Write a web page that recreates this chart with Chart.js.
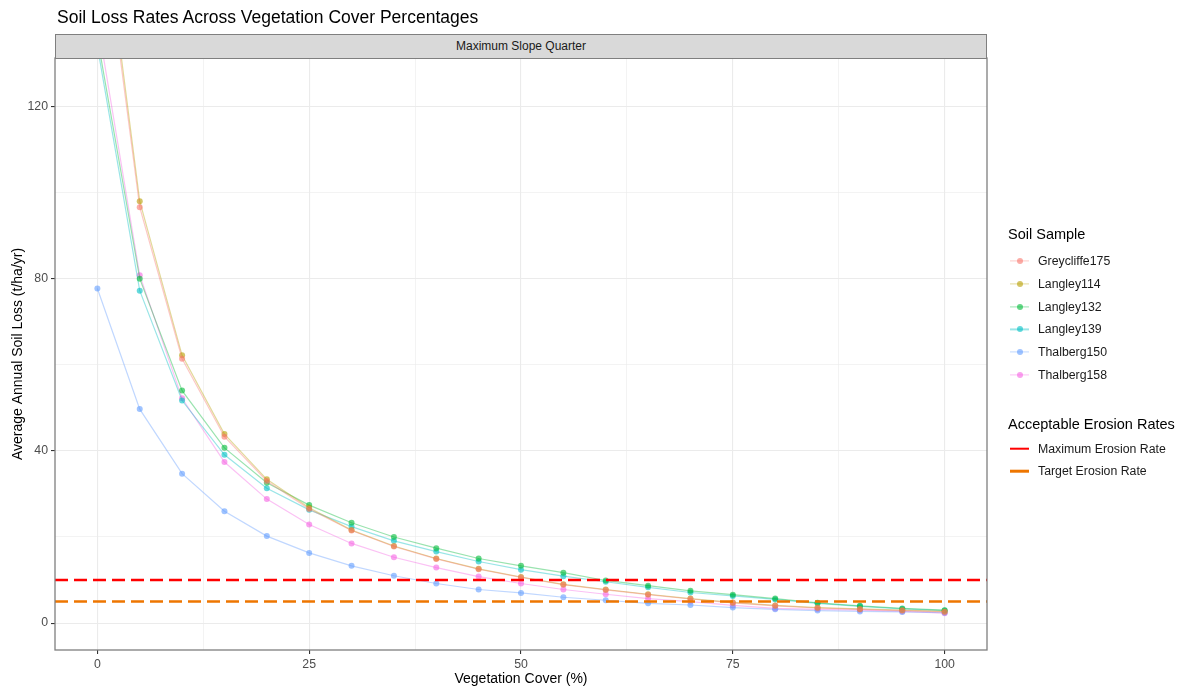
<!DOCTYPE html>
<html>
<head>
<meta charset="utf-8">
<script src="https://cdn.jsdelivr.net/npm/chart.js@4.4.1/dist/chart.umd.min.js"></script>
<style>
  body { margin: 0; background: #fff; font-family: "Liberation Sans", Arial, sans-serif; }
  #wrap { position: relative; width: 1184px; height: 691px; overflow: hidden; }
  #soilChart { position: absolute; left: 0; top: 0; }
  #title { position: absolute; left: 57px; top: 7px; font-size: 17.5px; color: #000; white-space: nowrap; }
  #strip {
    position: absolute; left: 55px; top: 34px; width: 932px; height: 24.5px; box-sizing: border-box;
    background: #d9d9d9; border: 1.3px solid #7f7f7f; font-size: 12px; color: #1a1a1a;
    display: flex; align-items: center; justify-content: center;
  }
  .leg-title { position: absolute; left: 1008px; font-size: 14.5px; color: #000; white-space: nowrap; transform: translateY(-50%); }
  .leg-row { position: absolute; left: 1009px; height: 22px; display: flex; align-items: center; transform: translateY(-50%); font-size: 12.3px; color: #1a1a1a; white-space: nowrap; }
  .leg-key { position: relative; width: 21px; height: 22px; margin-right: 8px; }
  .leg-key .ln { position: absolute; left: 1px; right: 1px; top: 50%; transform: translateY(-50%); }
  .leg-key .dot { position: absolute; left: 50%; top: 50%; width: 6px; height: 6px; border-radius: 50%; transform: translate(-50%, -50%); }
</style>
</head>
<body>
<div id="wrap">
  <canvas id="soilChart" width="1184" height="691"></canvas>
  <div id="title">Soil Loss Rates Across Vegetation Cover Percentages</div>
  <div id="strip">Maximum Slope Quarter</div>
  <div id="legend"></div>
</div>
<script>
// vegetation cover (%) at which each soil sample was modelled
const vegCover = [0, 5, 10, 15, 20, 25, 30, 35, 40, 45, 50, 55, 60, 65, 70, 75, 80, 85, 90, 95, 100];

// average annual soil loss (t/ha/yr)
const greycliffe175 = [172, 96.6, 61.4, 43.3, 33.0, 26.5, 21.5, 17.8, 14.9, 12.5, 10.6, 8.9, 7.7, 6.6, 5.6, 4.7, 4.0, 3.5, 3.2, 2.9, 2.6];
const langley114    = [175, 98.0, 62.2, 43.9, 33.4, 26.8, 21.6, 17.9, 15.0, 12.6, 10.7, 9.0, 7.8, 6.7, 5.7, 4.8, 4.1, 3.6, 3.3, 3.0, 2.7];
const langley132    = [136, 80.0, 54.0, 40.7, 32.6, 27.4, 23.3, 20.0, 17.4, 15.0, 13.3, 11.7, 9.9, 8.7, 7.5, 6.6, 5.7, 4.7, 4.0, 3.4, 3.0];
const langley139    = [134, 77.2, 51.7, 39.1, 31.3, 26.3, 22.4, 19.1, 16.6, 14.3, 12.4, 10.9, 9.6, 8.3, 7.1, 6.3, 5.5, 4.6, 3.9, 3.3, 2.9];
const thalberg150   = [77.7, 49.7, 34.7, 26.0, 20.2, 16.3, 13.3, 11.0, 9.2, 7.8, 7.0, 6.0, 5.3, 4.6, 4.2, 3.6, 3.2, 2.9, 2.7, 2.6, 2.4];
const thalberg158   = [140, 80.8, 52.2, 37.4, 28.8, 22.9, 18.5, 15.3, 12.9, 10.8, 9.2, 7.8, 6.7, 5.7, 5.0, 4.1, 3.4, 3.2, 3.0, 2.7, 2.3];

const sampleNames = ['Greycliffe175', 'Langley114', 'Langley132', 'Langley139', 'Thalberg150', 'Thalberg158'];
const sampleValues = [greycliffe175, langley114, langley132, langley139, thalberg150, thalberg158];
const sampleColors = ['248,118,109', '183,159,0', '0,186,56', '0,191,196', '97,156,255', '245,100,227'];

// reference lines
const erosionNames = ['Maximum Erosion Rate', 'Target Erosion Rate'];
const erosionValues = [10, 5];
const erosionColors = ['#ff0000', '#ee7600'];

// axis ticks
const xTicks = [0, 25, 50, 75, 100];
const yTicks = [0, 40, 80, 120];
const xLimits = [-5, 105];
const yLimits = [-6.25, 131.25];

// grid with minor lines half way between the majors
function withMinors(ticks) {
  const out = [];
  ticks.forEach((t, i) => {
    out.push(t);
    if (i < ticks.length - 1) out.push((t + ticks[i + 1]) / 2);
  });
  return out;
}

const datasets = [];
erosionValues.forEach((v, i) => {
  datasets.push({
    label: erosionNames[i],
    data: [{ x: xLimits[0], y: v }, { x: xLimits[1], y: v }],
    borderColor: erosionColors[i],
    borderWidth: 2.6,
    borderDash: [13, 6],
    pointRadius: 0,
    order: 0,
    clip: 0
  });
});
sampleNames.forEach((name, i) => {
  datasets.push({
    label: name,
    data: vegCover.map((x, j) => ({ x: x, y: sampleValues[i][j] })),
    borderColor: `rgba(${sampleColors[i]},0.4)`,
    borderWidth: 1.2,
    pointRadius: 3,
    pointBorderWidth: 0,
    pointBackgroundColor: `rgba(${sampleColors[i]},0.6)`,
    tension: 0,
    order: 1,
    clip: 0
  });
});

const panelBorder = {
  id: 'panelBorder',
  afterDraw(chart) {
    const a = chart.chartArea;
    const ctx = chart.ctx;
    ctx.save();
    ctx.strokeStyle = '#7f7f7f';
    ctx.lineWidth = 1.3;
    ctx.strokeRect(a.left, a.top, a.right - a.left, a.bottom - a.top);
    ctx.restore();
  }
};

const tickFont = { family: '"Liberation Sans", Arial, sans-serif', size: 12.3 };
const titleFont = { family: '"Liberation Sans", Arial, sans-serif', size: 14 };

new Chart(document.getElementById('soilChart').getContext('2d'), {
  type: 'line',
  data: { datasets: datasets },
  plugins: [panelBorder],
  options: {
    responsive: false,
    animation: false,
    events: [],
    layout: { padding: { left: 0, right: 197, top: 58, bottom: 0 } },
    plugins: { legend: { display: false }, tooltip: { enabled: false } },
    scales: {
      x: {
        type: 'linear',
        min: xLimits[0],
        max: xLimits[1],
        afterBuildTicks: s => { s.ticks = withMinors(xTicks).map(v => ({ value: v })); },
        afterFit: s => { s.height = 41; },
        border: { display: false },
        grid: {
          color: '#ebebeb',
          lineWidth: c => (xTicks.includes(c.tick.value) ? 1.1 : 0.6),
          tickColor: c => (xTicks.includes(c.tick.value) ? '#333333' : 'rgba(0,0,0,0)'),
          tickLength: 4
        },
        ticks: {
          autoSkip: false,
          maxRotation: 0,
          padding: 3,
          color: '#4d4d4d',
          font: tickFont,
          callback: v => (xTicks.includes(v) ? String(v) : '')
        },
        title: { display: true, text: 'Vegetation Cover (%)', color: '#000', font: titleFont, padding: { top: 0, bottom: 3 } }
      },
      y: {
        type: 'linear',
        min: yLimits[0],
        max: yLimits[1],
        afterBuildTicks: s => { s.ticks = withMinors(yTicks).map(v => ({ value: v })); },
        afterFit: s => { s.width = 55; },
        border: { display: false },
        grid: {
          color: '#ebebeb',
          lineWidth: c => (yTicks.includes(c.tick.value) ? 1.1 : 0.6),
          tickColor: c => (yTicks.includes(c.tick.value) ? '#333333' : 'rgba(0,0,0,0)'),
          tickLength: 4
        },
        ticks: {
          autoSkip: false,
          padding: 3,
          color: '#4d4d4d',
          font: tickFont,
          callback: v => (yTicks.includes(v) ? String(v) : '')
        },
        title: { display: true, text: 'Average Annual Soil Loss (t/ha/yr)', color: '#000', font: titleFont, padding: { top: 10, bottom: 0 } }
      }
    }
  }
});

// legend, two groups like the original
const legend = document.getElementById('legend');
function addTitle(text, y) {
  const d = document.createElement('div');
  d.className = 'leg-title';
  d.style.top = y + 'px';
  d.textContent = text;
  legend.appendChild(d);
}
function addRow(text, y, lineCss, dotColor) {
  const row = document.createElement('div');
  row.className = 'leg-row';
  row.style.top = y + 'px';
  const key = document.createElement('span');
  key.className = 'leg-key';
  const ln = document.createElement('span');
  ln.className = 'ln';
  Object.assign(ln.style, lineCss);
  key.appendChild(ln);
  if (dotColor) {
    const dot = document.createElement('span');
    dot.className = 'dot';
    dot.style.background = dotColor;
    key.appendChild(dot);
  }
  row.appendChild(key);
  const label = document.createElement('span');
  label.textContent = text;
  row.appendChild(label);
  legend.appendChild(row);
}

addTitle('Soil Sample', 234);
sampleNames.forEach((name, i) => {
  addRow(name, 261 + i * 22.8, { height: '1.2px', background: `rgba(${sampleColors[i]},0.4)` }, `rgba(${sampleColors[i]},0.6)`);
});
addTitle('Acceptable Erosion Rates', 424);
erosionNames.forEach((name, i) => {
  addRow(name, 448.5 + i * 22.5, { height: '2.6px', background: erosionColors[i] }, null);
});
</script>
</body>
</html>
